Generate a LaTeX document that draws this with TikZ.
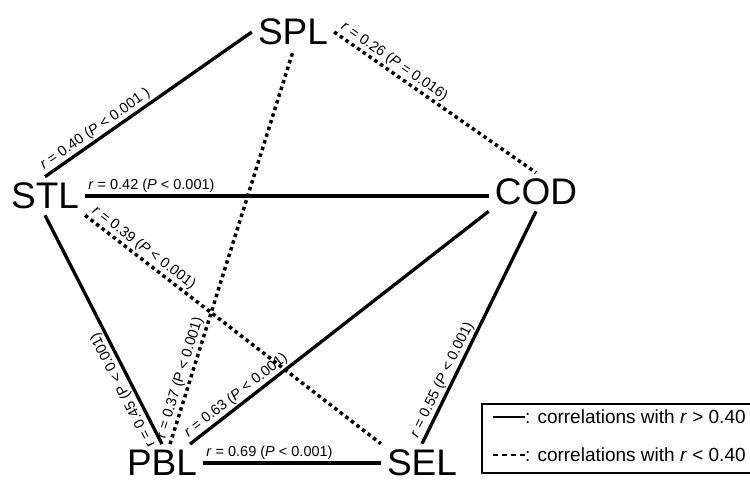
\documentclass[tikz,border=0pt]{standalone}
\usepackage{fontspec}
\setmainfont{Liberation Sans}
\usetikzlibrary{positioning}

\begin{document}
\begin{tikzpicture}[x=1pt,y=-1pt,
  var/.style={inner sep=6pt, font=\fontsize{37}{40}\selectfont},
  strong/.style={line width=3.3pt},
  weak/.style={line width=3.5pt, dash pattern=on 3.5pt off 3.5pt},
  lab/.style={sloped, pos=0, anchor=south west, inner sep=1.5pt,
              font=\fontsize{14.5}{16}\selectfont},
  legtxt/.style={inner sep=0pt, anchor=west, font=\fontsize{19}{21}\selectfont}]
\useasboundingbox (0,0) rectangle (750,480);
\clip (0,0) rectangle (750,480);
\node[var] (spl) at (293,32) {SPL};
\node[var] (stl) at (45,196) {STL};
\node[var] (cod) at (536,192) {COD};
\node[var] (pbl) at (162,463) {PBL};
\node[var] (sel) at (422,463) {SEL};

\draw[strong] (stl.north) -- (spl.west)
     node[lab] {\textit{r} = 0.40 (\textit{P} < 0.001 )};
\draw[weak] (spl.east) -- (cod.north)
     node[lab] {\textit{r} = 0.26 (\textit{P} = 0.016)};
\draw[strong] (stl.east) -- (stl.east -| cod.west)
     node[lab] {\textit{r} = 0.42 (\textit{P} < 0.001)};
\draw[weak] (stl.south east) -- (sel.north west)
     node[lab] {\textit{r} = 0.39 (\textit{P} < 0.001)};
\draw[strong] (pbl.north) -- (stl.south)
     node[lab, allow upside down] {r = 0.45 (P < 0.001)};
\draw[weak] ([xshift=8pt]pbl.north) -- (spl.south)
     node[lab] {r = 0.37 (P < 0.001)};
\draw[strong] ([xshift=28pt]pbl.north) -- (cod.south west)
     node[lab] {\textit{r} = 0.63 (\textit{P} < 0.001)};
\draw[strong] (pbl.east) -- (sel.west)
     node[lab] {\textit{r} = 0.69 (\textit{P} < 0.001)};
\draw[strong] (sel.north) -- (cod.south)
     node[lab] {\textit{r} = 0.55 (\textit{P} < 0.001)};

\draw[line width=2.2pt] (482,404) rectangle (770,473);
\node[legtxt] (leghi) at (525,417) {: correlations with \textit{r} > 0.40};
\node[legtxt, below=38pt of leghi.west, anchor=west] (leglo) {: correlations with \textit{r} < 0.40};
\coordinate[left=32pt of leghi.west] (hiend);
\coordinate[left=32pt of leglo.west] (loend);
\draw[line width=2.2pt] (hiend) -- (leghi.west);
\draw[line width=2.2pt, dash pattern=on 5pt off 4pt] (loend) -- (leglo.west);
\end{tikzpicture}
\end{document}
